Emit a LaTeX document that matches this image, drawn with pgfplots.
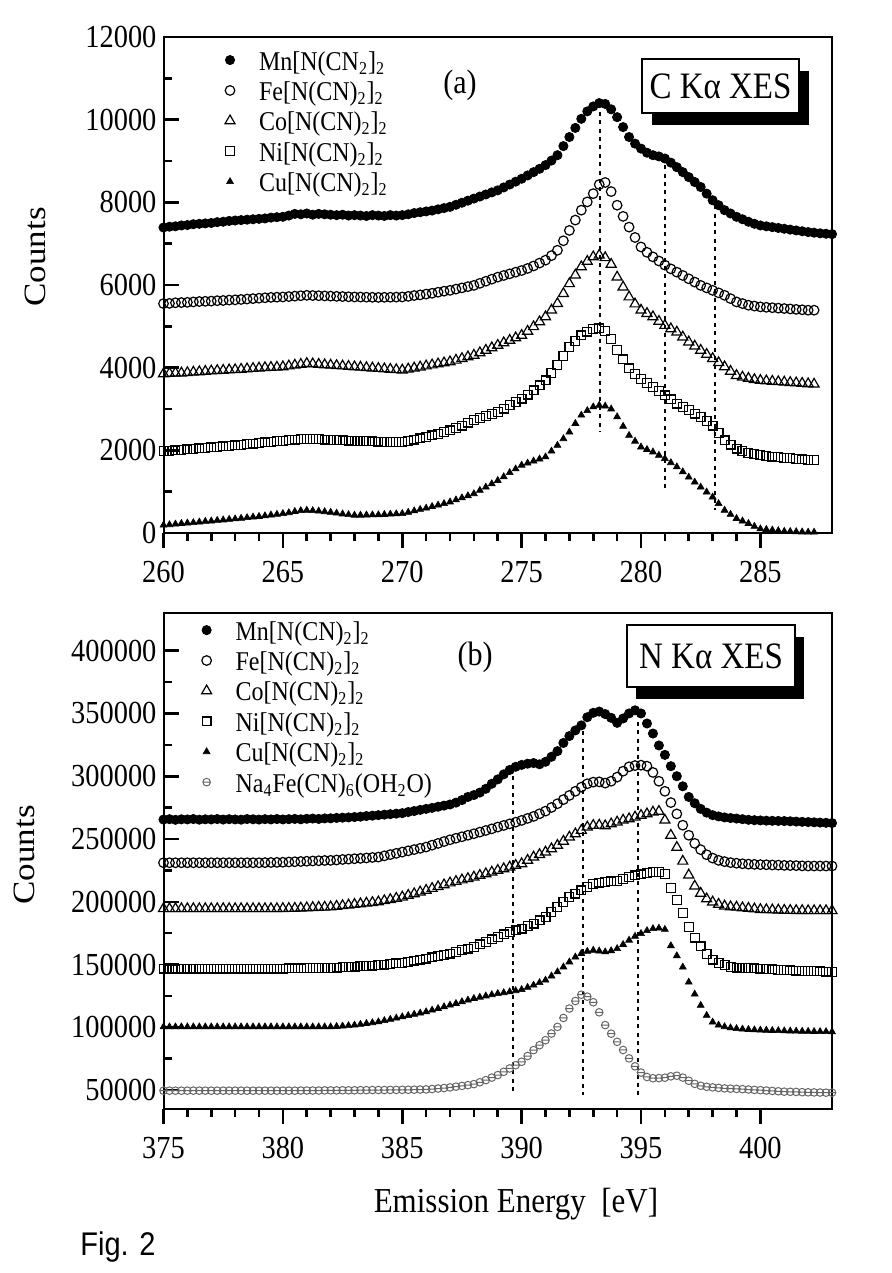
\documentclass[border=0pt]{standalone}
\usepackage{fontspec}
\setmainfont{Liberation Serif}
\newfontfamily\sansfig{Liberation Sans}
\usepackage{graphicx}
\usepackage{pgfplots}
\usepackage{pgfplotstable}
\pgfplotsset{compat=1.18}
\newcommand{\vs}[1]{\scalebox{1}[1.13]{#1}}
\pgfdeclareplotmark{ominus}{%
  \pgfpathcircle{\pgfpointorigin}{\pgfplotmarksize}%
  \pgfpathmoveto{\pgfpoint{-\pgfplotmarksize}{0pt}}%
  \pgfpathlineto{\pgfpoint{\pgfplotmarksize}{0pt}}%
  \pgfusepathqstroke}

\pgfplotstableread{
E Mn Fe Co Ni Cu
260.00 7390 5550 3850 1980 190
260.25 7410 5555 3860 1990 200
260.50 7420 5570 3870 2000 215
260.75 7440 5575 3870 2010 230
261.00 7450 5580 3880 2020 240
261.25 7470 5590 3890 2030 250
261.50 7480 5600 3900 2045 265
261.75 7490 5605 3910 2055 280
262.00 7500 5610 3920 2070 290
262.25 7520 5620 3930 2080 305
262.50 7530 5625 3935 2095 315
262.75 7550 5635 3945 2110 330
263.00 7560 5640 3950 2120 340
263.25 7570 5650 3960 2135 355
263.50 7580 5660 3970 2150 370
263.75 7590 5670 3980 2165 385
264.00 7600 5680 3990 2180 400
264.25 7610 5690 4000 2190 415
264.50 7630 5700 4005 2205 435
264.75 7640 5705 4010 2220 450
265.00 7650 5710 4020 2230 470
265.25 7680 5720 4040 2245 490
265.50 7720 5730 4060 2260 520
265.75 7710 5740 4080 2270 540
266.00 7730 5750 4100 2280 550
266.25 7700 5745 4090 2275 540
266.50 7720 5740 4080 2270 530
266.75 7710 5735 4070 2260 515
267.00 7700 5730 4060 2250 500
267.25 7690 5725 4050 2245 480
267.50 7700 5720 4040 2240 460
267.75 7680 5715 4030 2235 445
268.00 7690 5710 4020 2230 430
268.25 7680 5708 4010 2225 430
268.50 7670 5705 4000 2220 435
268.75 7690 5702 3990 2215 438
269.00 7680 5700 3980 2210 440
269.25 7670 5702 3970 2205 448
269.50 7690 5704 3960 2200 455
269.75 7680 5707 3950 2200 462
270.00 7690 5710 3940 2200 470
270.25 7710 5725 3965 2230 500
270.50 7740 5745 3990 2260 535
270.75 7760 5760 4015 2290 570
271.00 7780 5780 4040 2320 600
271.25 7800 5800 4065 2360 640
271.50 7830 5825 4090 2400 675
271.75 7860 5850 4115 2440 710
272.00 7890 5870 4140 2480 750
272.25 7940 5900 4180 2540 800
272.50 7990 5930 4220 2600 850
272.75 8040 5960 4260 2670 900
273.00 8090 5990 4300 2730 950
273.25 8140 6040 4360 2780 1030
273.50 8190 6090 4420 2830 1110
273.75 8240 6140 4480 2880 1190
274.00 8290 6190 4540 2930 1270
274.25 8360 6230 4600 3010 1360
274.50 8430 6270 4660 3090 1460
274.75 8500 6310 4720 3170 1550
275.00 8570 6350 4780 3250 1640
275.25 8650 6400 4880 3350 1690
275.50 8730 6460 4990 3450 1740
275.75 8810 6530 5110 3570 1790
276.00 8900 6600 5230 3690 1840
276.25 9010 6710 5390 3870 1980
276.50 9140 6840 5550 4060 2120
276.75 9360 7070 5790 4280 2280
277.00 9580 7320 6030 4500 2440
277.25 9800 7570 6240 4640 2650
277.50 10020 7810 6440 4780 2850
277.75 10200 8010 6570 4870 2960
278.00 10320 8210 6680 4940 3050
278.25 10400 8430 6720 4950 3090
278.50 10380 8480 6660 4890 3070
278.75 10250 8260 6500 4700 3000
279.00 10060 7930 6190 4420 2810
279.25 9820 7660 5950 4200 2580
279.50 9580 7400 5710 3980 2360
279.75 9420 7150 5540 3850 2220
280.00 9300 6920 5390 3730 2080
280.25 9200 6790 5310 3630 2020
280.50 9140 6680 5230 3530 1960
280.75 9110 6580 5120 3430 1880
281.00 9060 6480 5020 3330 1800
281.25 8960 6390 4940 3230 1700
281.50 8850 6310 4860 3130 1600
281.75 8730 6230 4740 3050 1480
282.00 8610 6150 4620 2970 1350
282.25 8490 6070 4520 2890 1230
282.50 8370 5990 4420 2810 1110
282.75 8210 5930 4320 2710 990
283.00 8050 5870 4220 2600 870
283.25 7930 5810 4120 2420 710
283.50 7810 5750 4020 2240 550
283.75 7730 5670 3910 2140 450
284.00 7650 5590 3810 2040 350
284.25 7590 5550 3770 1990 290
284.50 7530 5510 3740 1940 230
284.75 7480 5490 3710 1910 160
285.00 7440 5470 3690 1880 100
285.25 7420 5460 3680 1865 85
285.50 7400 5450 3670 1850 70
285.75 7380 5440 3660 1835 55
286.00 7360 5430 3650 1820 40
286.25 7340 5420 3640 1810 35
286.50 7320 5410 3630 1795 30
286.75 7300 5400 3620 1780 25
287.00 7280 5390 3610 1770 20
287.25 7265 5390 3600 1765 20
287.50 7250 nan nan nan nan
287.75 7240 nan nan nan nan
288.00 7230 nan nan nan nan
}\topdata

\pgfplotstableread{
E Mn Fe Co Ni Cu Na
375.00 265500 231100 194500 146800 100400 49600
375.25 265800 231100 194500 146800 100400 49600
375.50 265300 231100 194500 146800 100400 49600
375.75 265700 231100 194500 146800 100400 49600
376.00 265600 231100 194500 146800 100400 49600
376.25 265900 231100 194500 146800 100400 49600
376.50 265400 231100 194500 146800 100400 49600
376.75 265700 231100 194500 146800 100400 49600
377.00 265600 231100 194500 146800 100400 49600
377.25 265900 231100 194500 146800 100400 49600
377.50 265500 231100 194500 146800 100400 49600
377.75 265800 231100 194500 146800 100400 49600
378.00 265600 231100 194500 146800 100400 49600
378.25 265400 231100 194500 146800 100400 49600
378.50 265900 231100 194500 146800 100400 49600
378.75 265700 231100 194500 146800 100400 49600
379.00 265500 231100 194500 146800 100400 49600
379.25 265800 231200 194500 146800 100400 49600
379.50 265600 231300 194500 146800 100400 49600
379.75 265900 231400 194500 146800 100400 49600
380.00 265600 231500 194600 146800 100400 49600
380.25 265800 231700 194700 146900 100400 49600
380.50 266000 231900 194800 146900 100400 49600
380.75 265700 232100 195000 147000 100400 49700
381.00 266100 232300 195200 147100 100400 49700
381.25 266300 232500 195400 147200 100400 49700
381.50 266000 232700 195600 147200 100400 49700
381.75 266400 232900 195700 147300 100400 49800
382.00 266500 233000 195900 147400 100400 49800
382.25 266800 233300 196400 147600 100700 49800
382.50 267000 233700 196900 147900 101000 49900
382.75 267200 234000 197400 148100 101400 49900
383.00 267500 234300 197900 148400 101800 49900
383.25 267800 234600 198400 148700 102400 50000
383.50 268300 234900 198900 148900 103100 50000
383.75 268600 235300 199400 149200 103700 50100
384.00 269000 235600 199900 149500 104400 50100
384.25 269400 236600 200900 150000 105400 50100
384.50 269800 237600 201800 150400 106400 50200
384.75 270200 238600 202800 150900 107400 50200
385.00 270600 239600 203800 151300 108400 50300
385.25 271500 240600 205100 152200 109400 50300
385.50 272300 241600 206400 153100 110400 50400
385.75 273200 242600 207800 153900 111400 50500
386.00 274000 243600 209100 154800 112400 50600
386.25 274800 245100 210600 155800 113700 50900
386.50 275700 246500 212000 156800 115000 51300
386.75 276600 248000 213500 157800 116400 51700
387.00 277500 249400 215000 158800 117700 52200
387.25 279000 250600 216200 160100 119000 52800
387.50 281000 251800 217400 161500 120400 53400
387.75 283500 253000 218500 162800 121700 54000
388.00 285000 254200 219700 164100 123000 54800
388.25 287000 255500 221000 166000 124000 56300
388.50 290000 256800 222300 168000 125000 58000
388.75 294000 258100 223600 170000 126000 60000
389.00 297500 259500 225000 172000 126900 62000
389.25 301500 260800 226300 174000 127600 64600
389.50 305000 262100 227700 176000 128300 67300
389.75 307500 263400 229000 177300 129200 69900
390.00 309000 264800 230300 178600 130100 72600
390.25 310000 266400 233000 180600 131800 77200
390.50 310500 268000 235600 182600 133600 81900
390.75 309500 270100 237600 185200 135600 85800
391.00 311500 272200 239600 187900 137600 89800
391.25 315500 275100 242200 191900 140900 95100
391.50 320000 278100 244900 195900 144200 100400
391.75 326500 281400 248200 199800 148100 107500
392.00 332000 284700 251500 203800 152100 115000
392.25 336500 288000 254100 206500 156000 121000
392.50 340500 291300 256800 209100 158800 126000
392.75 347000 294000 259500 212000 160500 124500
393.00 350500 295300 260800 214400 161400 120000
393.25 351500 295500 261000 215300 160800 112000
393.50 349500 294500 260500 215800 160100 101800
393.75 346500 296000 262000 216200 161000 95000
394.00 342500 299300 263500 216600 162700 88500
394.25 346000 304000 265000 218000 166000 82000
394.50 350000 307500 266100 219700 169400 75300
394.75 352500 308500 267500 221000 172500 69000
395.00 350000 308800 268800 221900 174700 64000
395.25 342000 308000 270000 222800 177000 60500
395.50 334000 303000 271400 223700 178600 59500
395.75 324500 296000 272000 223500 179000 59600
396.00 317000 288000 265000 222000 178000 59900
396.25 308000 279000 253000 211000 165000 61000
396.50 300000 270000 243300 201500 157000 61500
396.75 292000 261000 232300 191000 148000 60000
397.00 283500 253000 221300 180000 136000 57500
397.25 278500 246500 212500 171500 126500 55000
397.50 274000 241500 206800 164500 117500 53500
397.75 271000 237500 202300 158500 109500 52700
398.00 269000 234800 199800 154000 104200 52200
398.25 268000 233000 198000 151200 101800 51800
398.50 267200 232000 196600 149500 100500 51400
398.75 266700 231200 196000 148200 99600 51200
399.00 266300 230700 195700 147600 99000 51000
399.25 265800 230300 195200 147300 98600 50800
399.50 265300 230000 194800 147100 98300 50500
399.75 265000 229800 194300 146900 98000 50200
400.00 264800 229600 193800 146800 97800 50000
400.25 264600 229500 193700 146500 97700 49700
400.50 264500 229300 193500 146200 97500 49400
400.75 264400 229200 193400 145800 97400 49100
401.00 264300 229000 193200 145500 97200 48800
401.25 264100 228900 193100 145400 97100 48700
401.50 263900 228800 193000 145200 97000 48600
401.75 263700 228600 193000 145100 96900 48400
402.00 263500 228500 192900 144900 96800 48300
402.25 263300 228500 192900 144700 96700 48200
402.50 263100 228500 192900 144600 96600 48100
402.75 262900 228500 192900 144400 96600 48000
403.00 262700 228500 192900 144200 96500 48000
}\botdata

\pgfplotsset{
  base/.style={
    scale only axis, width=334.25pt, height=248pt, anchor=south west,
    axis line style={line width=1pt},
    tick style={black, line width=1.3pt},
    xtick pos=left, ytick pos=left,
    xtick align=outside, ytick align=inside,
    major tick length=7.5pt, minor tick length=4pt,
    minor x tick num=4, minor y tick num=1,
    scaled ticks=false,
    /pgf/number format/fixed,
    /pgf/number format/1000 sep={},
    /pgf/number format/assume math mode=true,
    tick label style={font=\fontsize{14.2}{16}\selectfont},
    xticklabel style={yshift=-3pt},
    xticklabel={\vs{\pgfmathprintnumber{\tick}}},
    yticklabel={\vs{\pgfmathprintnumber{\tick}}},
    legend cell align=left,
    legend style={draw=none, fill=none, inner sep=0pt, outer sep=0pt, row sep=0pt,
      anchor=north west, font=\fontsize{12}{14}\selectfont,
      nodes={inner sep=0pt, text height=9.6pt, text depth=5.6pt},
      /tikz/every odd column/.append style={column sep=12pt}},
    legend image code/.code={\draw[mark repeat=2,mark phase=2,##1] plot coordinates {(0pt,3pt)(5pt,3pt)(10pt,3pt)};},
  },
  mn/.style={only marks, black, mark=*, mark size=2.3pt, mark options={line width=0.4pt, fill=black}},
  fe/.style={only marks, black, mark=o, mark size=2.4pt, mark options={line width=0.6pt}},
  co/.style={only marks, black, mark=triangle, mark size=2.9pt, mark options={line width=0.6pt}},
  ni/.style={only marks, black, mark=square, mark size=2.2pt, mark options={line width=0.6pt}},
  cu/.style={only marks, black, mark=triangle*, mark size=2.0pt, mark options={line width=0.3pt, fill=black}},
  na/.style={only marks, black!60, mark=ominus, mark size=1.9pt, mark options={line width=0.5pt}},
  dotline/.style={black, line width=1pt, dash pattern=on 2pt off 2.2pt, forget plot},
}

\begin{document}
\begin{tikzpicture}
\path[use as bounding box] (0,0) rectangle (445.5pt,636.5pt);

\begin{axis}[base, at={(81.75pt,370pt)},
  xmin=260, xmax=288, ymin=0, ymax=12000,
  xtick={260,265,...,285}, ytick={0,2000,...,12000},
  legend style={at={(0.092,0.972)}}]
\addplot[mn] table[x=E,y=Mn]{\topdata};
\addlegendentry{\vs{Mn[N(CN\textsubscript{2}]\textsubscript{2}}}
\addplot[fe] table[x=E,y=Fe]{\topdata};
\addlegendentry{\vs{Fe[N(CN)\textsubscript{2}]\textsubscript{2}}}
\addplot[co] table[x=E,y=Co]{\topdata};
\addlegendentry{\vs{Co[N(CN)\textsubscript{2}]\textsubscript{2}}}
\addplot[ni] table[x=E,y=Ni]{\topdata};
\addlegendentry{\vs{Ni[N(CN)\textsubscript{2}]\textsubscript{2}}}
\addplot[cu] table[x=E,y=Cu]{\topdata};
\addlegendentry{\vs{Cu[N(CN)\textsubscript{2}]\textsubscript{2}}}
\addplot[dotline] coordinates {(278.3,10190) (278.3,2440)};
\addplot[dotline] coordinates {(281.0,9100) (281.0,1070)};
\addplot[dotline] coordinates {(283.1,7930) (283.1,550)};
\end{axis}

\begin{axis}[base, at={(81.75pt,82pt)},
  xmin=375, xmax=403, ymin=35000, ymax=430000,
  xtick={375,380,...,400}, ytick={50000,100000,...,400000},
  legend style={at={(0.057,0.984)}}]
\addplot[mn] table[x=E,y=Mn]{\botdata};
\addlegendentry{\vs{Mn[N(CN)\textsubscript{2}]\textsubscript{2}}}
\addplot[fe] table[x=E,y=Fe]{\botdata};
\addlegendentry{\vs{Fe[N(CN)\textsubscript{2}]\textsubscript{2}}}
\addplot[co] table[x=E,y=Co]{\botdata};
\addlegendentry{\vs{Co[N(CN)\textsubscript{2}]\textsubscript{2}}}
\addplot[ni] table[x=E,y=Ni]{\botdata};
\addlegendentry{\vs{Ni[N(CN)\textsubscript{2}]\textsubscript{2}}}
\addplot[cu] table[x=E,y=Cu]{\botdata};
\addlegendentry{\vs{Cu[N(CN)\textsubscript{2}]\textsubscript{2}}}
\addplot[na] table[x=E,y=Na]{\botdata};
\addlegendentry{\vs{Na\textsubscript{4}Fe(CN)\textsubscript{6}(OH\textsubscript{2}O)}}
\addplot[dotline] coordinates {(389.65,300000) (389.65,46000)};
\addplot[dotline] coordinates {(392.56,336000) (392.56,46000)};
\addplot[dotline] coordinates {(394.86,350000) (394.86,46000)};
\end{axis}

% axis labels
\node[rotate=90, font=\fontsize{15.5}{18}\selectfont] at (17.5pt,508pt) {\scalebox{1.13}[1]{Counts}};
\node[rotate=90, font=\fontsize{15.5}{18}\selectfont] at (12pt,209pt) {\scalebox{1.13}[1]{Counts}};
\node[font=\fontsize{15.5}{18}\selectfont] at (258pt,34.5pt) {\vs{Emission Energy\ \ [eV]}};
\node[font=\sansfig\fontsize{14.5}{17}\selectfont] at (59pt,13pt) {\vs{Fig. 2}};
% panel labels
\node[font=\fontsize{15}{18}\selectfont] at (230pt,594pt) {\vs{(a)}};
\node[font=\fontsize{15}{18}\selectfont] at (237.5pt,308pt) {\vs{(b)}};
% boxes with shadow
\fill[black] (326pt,574pt) rectangle (404.5pt,601pt);
\draw[line width=0.6pt, fill=white] (321pt,580pt) rectangle (399.5pt,607pt);
\node[font=\fontsize{16.5}{19}\selectfont] at (360.25pt,593.5pt) {\vs{C Kα XES}};
\fill[black] (318pt,287pt) rectangle (402pt,318pt);
\draw[line width=0.6pt, fill=white] (313.5pt,293pt) rectangle (397.5pt,324pt);
\node[font=\fontsize{16.5}{19}\selectfont] at (355.5pt,308.5pt) {\vs{N Kα XES}};
\end{tikzpicture}
\end{document}
